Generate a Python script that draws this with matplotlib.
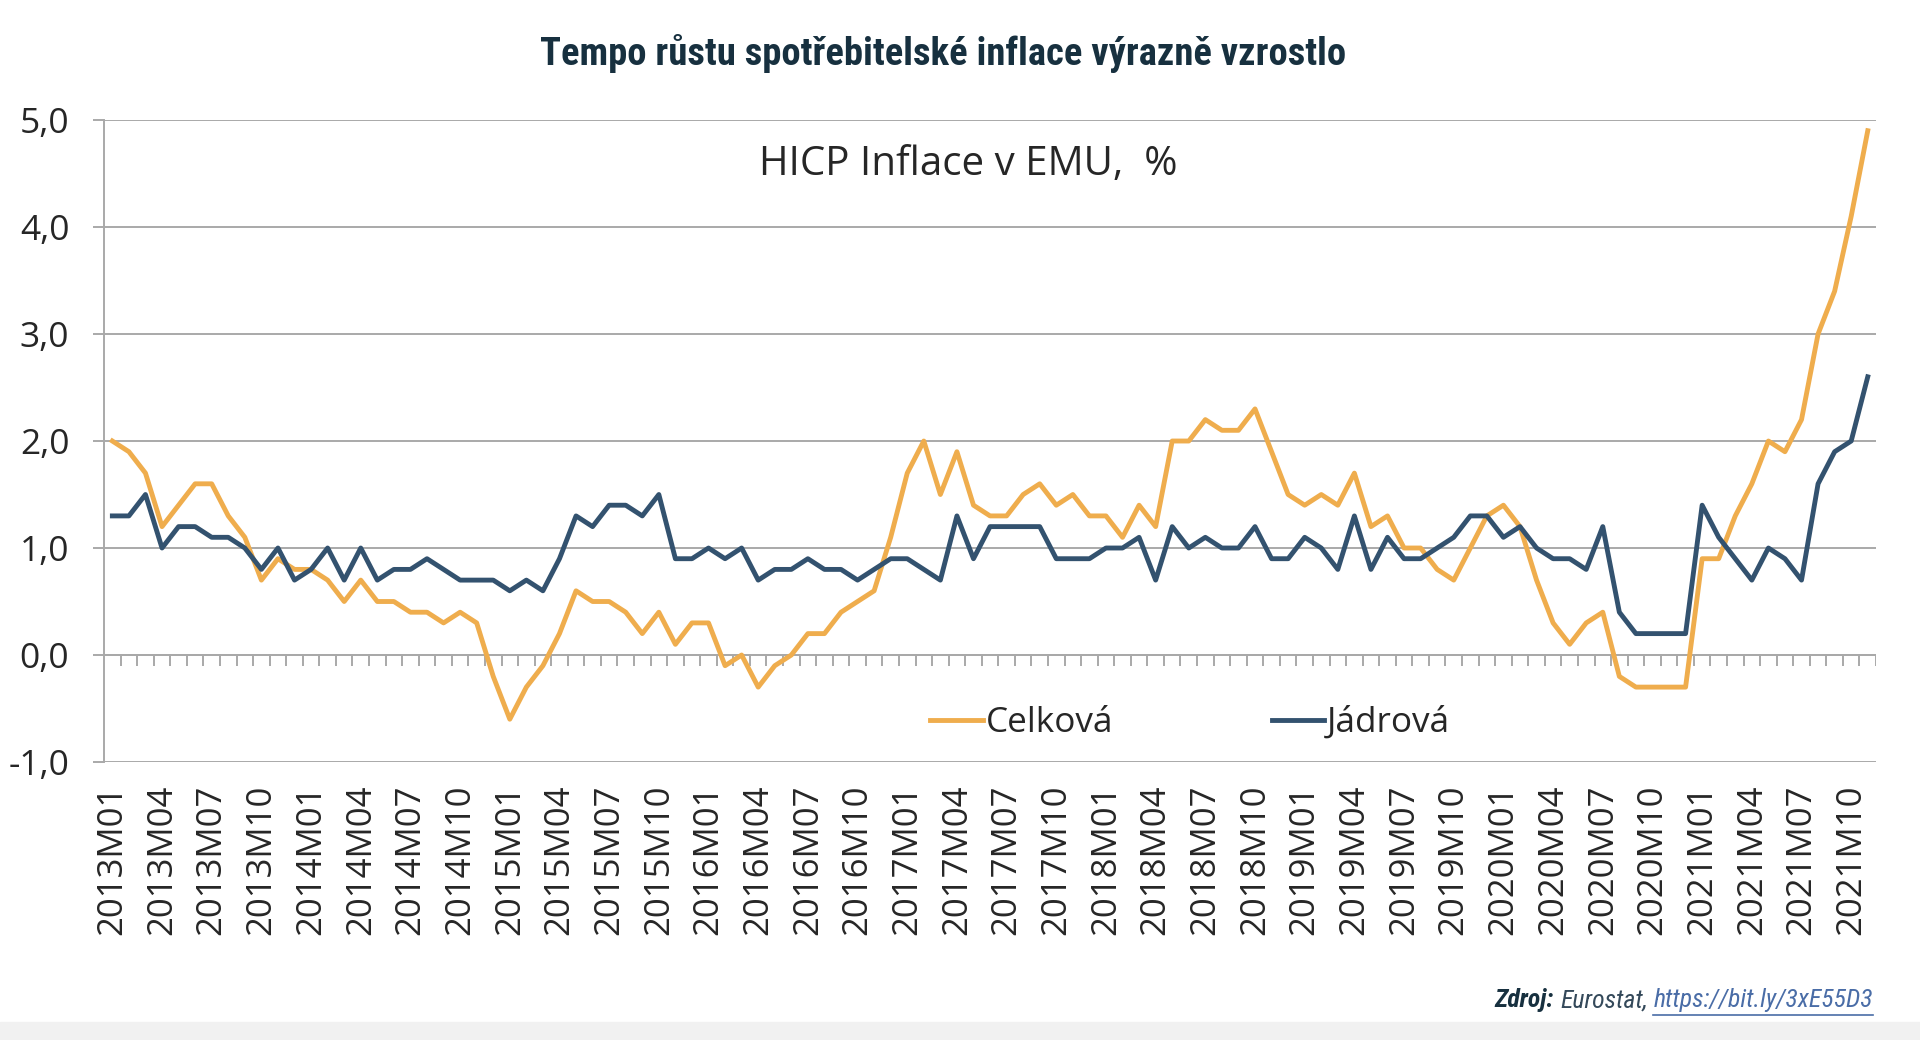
import matplotlib
matplotlib.use("Agg")
import matplotlib.pyplot as plt
from matplotlib import font_manager
from matplotlib.patches import Rectangle

# kategorie: mesice 2013M01 .. 2021M11
months = [f"{y}M{m:02d}" for y in range(2013, 2022) for m in range(1, 13)][:107]

# HICP celkova inflace v EMU, %
celkova = [
    2.0, 1.9, 1.7, 1.2, 1.4, 1.6, 1.6, 1.3, 1.1, 0.7, 0.9, 0.8,
    0.8, 0.7, 0.5, 0.7, 0.5, 0.5, 0.4, 0.4, 0.3, 0.4, 0.3, -0.2,
    -0.6, -0.3, -0.1, 0.2, 0.6, 0.5, 0.5, 0.4, 0.2, 0.4, 0.1, 0.3,
    0.3, -0.1, 0.0, -0.3, -0.1, 0.0, 0.2, 0.2, 0.4, 0.5, 0.6, 1.1,
    1.7, 2.0, 1.5, 1.9, 1.4, 1.3, 1.3, 1.5, 1.6, 1.4, 1.5, 1.3,
    1.3, 1.1, 1.4, 1.2, 2.0, 2.0, 2.2, 2.1, 2.1, 2.3, 1.9, 1.5,
    1.4, 1.5, 1.4, 1.7, 1.2, 1.3, 1.0, 1.0, 0.8, 0.7, 1.0, 1.3,
    1.4, 1.2, 0.7, 0.3, 0.1, 0.3, 0.4, -0.2, -0.3, -0.3, -0.3, -0.3,
    0.9, 0.9, 1.3, 1.6, 2.0, 1.9, 2.2, 3.0, 3.4, 4.1, 4.9,
]

# jadrova inflace
jadrova = [
    1.3, 1.3, 1.5, 1.0, 1.2, 1.2, 1.1, 1.1, 1.0, 0.8, 1.0, 0.7,
    0.8, 1.0, 0.7, 1.0, 0.7, 0.8, 0.8, 0.9, 0.8, 0.7, 0.7, 0.7,
    0.6, 0.7, 0.6, 0.9, 1.3, 1.2, 1.4, 1.4, 1.3, 1.5, 0.9, 0.9,
    1.0, 0.9, 1.0, 0.7, 0.8, 0.8, 0.9, 0.8, 0.8, 0.7, 0.8, 0.9,
    0.9, 0.8, 0.7, 1.3, 0.9, 1.2, 1.2, 1.2, 1.2, 0.9, 0.9, 0.9,
    1.0, 1.0, 1.1, 0.7, 1.2, 1.0, 1.1, 1.0, 1.0, 1.2, 0.9, 0.9,
    1.1, 1.0, 0.8, 1.3, 0.8, 1.1, 0.9, 0.9, 1.0, 1.1, 1.3, 1.3,
    1.1, 1.2, 1.0, 0.9, 0.9, 0.8, 1.2, 0.4, 0.2, 0.2, 0.2, 0.2,
    1.4, 1.1, 0.9, 0.7, 1.0, 0.9, 0.7, 1.6, 1.9, 2.0, 2.6,
]

y_ticks = [-1.0, 0.0, 1.0, 2.0, 3.0, 4.0, 5.0]
y_labels = ["-1,0", "0,0", "1,0", "2,0", "3,0", "4,0", "5,0"]

ORANGE = "#EFAD4D"
NAVY = "#33526F"
GRID = "#A9A9A9"
DARK = "#17303F"
TXT = "#262626"

# uzsi pismo pro nadpis, pokud je k dispozici
fonts = font_manager.fontManager.ttflist
names = {f.name for f in fonts}
narrow, stretch, tsize, ssize = "Open Sans", "normal", 23.0, 16.5
for cand in ["Liberation Sans Narrow", "Roboto Condensed", "Open Sans Condensed",
             "Noto Sans Condensed", "DejaVu Sans Condensed"]:
    if cand in names:
        narrow, tsize, ssize = cand, 27.8, 18.5
        break
else:
    if any(f.name == "DejaVu Sans" and f.stretch == "condensed" and f.weight in (700, "bold")
           for f in fonts):
        narrow, stretch, tsize = "DejaVu Sans", "condensed", 23.0

plt.rcParams["font.family"] = ["Open Sans", "DejaVu Sans"]

fig = plt.figure(figsize=(19.2, 10.4), dpi=100)
fig.patches.append(Rectangle((0, 0), 1, 0.017, transform=fig.transFigure,
                             color="#F1F1F1", zorder=-1))
ax = fig.add_axes([0.0542, 0.2673, 0.9229, 0.6173])

x = list(range(len(months)))
ax.plot(x, celkova, color=ORANGE, lw=3.5, label="Celková", zorder=3,
        solid_joinstyle="round")
ax.plot(x, jadrova, color=NAVY, lw=3.5, label="Jádrová", zorder=4,
        solid_joinstyle="round")

ax.set_xlim(-0.5, len(months) - 0.5)
ax.set_ylim(-1, 5)
ax.set_yticks(y_ticks)
ax.set_yticklabels(y_labels)
ax.yaxis.grid(True, color=GRID, lw=1.4)
ax.set_axisbelow(True)
ax.tick_params(axis="y", length=8, width=1.4, color=GRID, pad=17,
               labelsize=25.5, labelcolor=TXT)

ax.set_xticks(x[::3])
ax.set_xticklabels(months[::3], rotation=90)
ax.tick_params(axis="x", length=0, pad=16, labelsize=25, labelcolor=TXT)

for s in ["top", "right", "bottom"]:
    ax.spines[s].set_visible(False)
ax.spines["left"].set_color(GRID)
ax.spines["left"].set_linewidth(1.4)

# nulova osa s drobnymi znackami mezi kategoriemi
ax.axhline(0, color=GRID, lw=1.4, zorder=2)
bounds = [i - 0.5 for i in range(len(months) + 1)]
ax.vlines(bounds[1:], -0.1, 0, color=GRID, lw=1.4, zorder=2)

ax.text(0.4876, 0.931, "HICP Inflace v EMU,  %", transform=ax.transAxes,
        ha="center", va="center", fontsize=29, color=TXT)

leg = ax.legend(loc="center", bbox_to_anchor=(0.613, 0.061), ncol=2,
                frameon=False, fontsize=25.3, handlelength=1.5,
                handletextpad=0.08, columnspacing=4.5)
for t in leg.get_texts():
    t.set_color(TXT)

fig.text(0.491, 0.949, "Tempo růstu spotřebitelské inflace výrazně vzrostlo",
         ha="center", va="center", fontsize=tsize, fontweight="bold",
         fontstretch=stretch, color=DARK, family=[narrow, "DejaVu Sans"])

# zdroj - skladani zprava doleva
r = fig.canvas.get_renderer()
inv = fig.transFigure.inverted()
xr, yb = 0.9755, 0.038
link = fig.text(xr, yb, "https://bit.ly/3xE55D3", ha="right", va="center",
                fontsize=ssize, style="italic", color="#4A6DA7",
                family=[narrow, "DejaVu Sans"], fontstretch=stretch)
bb = inv.transform(link.get_window_extent(r))
fig.add_artist(plt.Line2D([bb[0][0], bb[1][0]], [bb[0][1] - 0.002, bb[0][1] - 0.002],
                          transform=fig.transFigure, color="#4A6DA7", lw=1.2))
src = fig.text(bb[0][0] - 0.003, yb, "Eurostat,", ha="right", va="center",
               fontsize=ssize, style="italic", color="#34495A",
               family=[narrow, "DejaVu Sans"], fontstretch=stretch)
bb2 = inv.transform(src.get_window_extent(r))
fig.text(bb2[0][0] - 0.003, yb, "Zdroj:", ha="right", va="center",
         fontsize=ssize, style="italic", fontweight="bold", color=DARK,
         family=[narrow, "DejaVu Sans"], fontstretch=stretch)

fig.savefig("out.png", dpi=100)
